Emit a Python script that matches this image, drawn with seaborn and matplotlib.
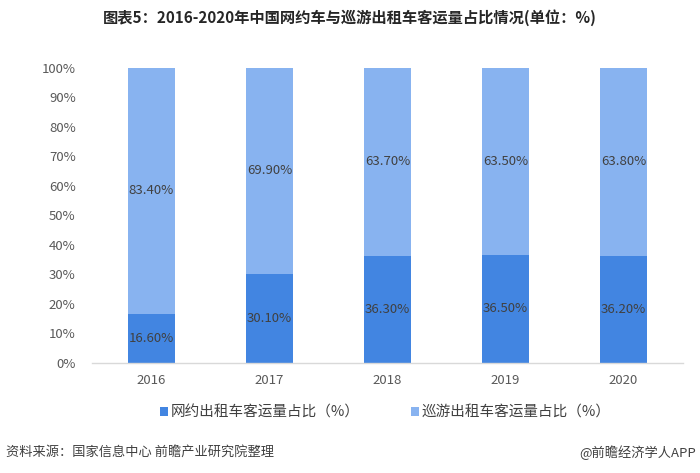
import matplotlib
matplotlib.use("Agg")
import matplotlib.pyplot as plt
import seaborn as sns
import pandas as pd
import numpy as np

# 数据
years = ["2016", "2017", "2018", "2019", "2020"]
online = [16.6, 30.1, 36.3, 36.5, 36.2]
cruise = [83.4, 69.9, 63.7, 63.5, 63.8]
labels = ["网约出租车客运量占比（%）", "巡游出租车客运量占比（%）"]
c_dark = "#4285E1"
c_light = "#88B3F0"

sns.set_theme(style="white")
plt.rcParams["font.family"] = ["Noto Sans CJK SC", "DejaVu Sans"]

df = pd.DataFrame({"year": years, "online": online, "cruise": cruise})
df["total"] = df["online"] + df["cruise"]

fig = plt.figure(figsize=(7, 4.73), dpi=100)
ax = fig.add_axes([0.132, 0.233, 0.843, 0.624])

# 堆叠：先画总高度，再画底部
sns.barplot(data=df, x="year", y="total", color=c_light, width=0.4,
            saturation=1, ax=ax, label=labels[1], linewidth=0)
sns.barplot(data=df, x="year", y="online", color=c_dark, width=0.4,
            saturation=1, ax=ax, label=labels[0], linewidth=0)

for i in range(len(years)):
    ax.text(i, online[i] / 2, f"{online[i]:.2f}%", ha="center", va="center",
            fontsize=9.5, color="#404040")
    ax.text(i, online[i] + cruise[i] / 2, f"{cruise[i]:.2f}%", ha="center",
            va="center", fontsize=9.5, color="#404040")

ax.set_ylim(0, 100)
ax.set_xlim(-0.5, 4.5)
ax.set_yticks(np.arange(0, 101, 10))
ax.set_yticklabels([f"{v}%" for v in range(0, 101, 10)])
ax.tick_params(axis="both", labelsize=9.5, colors="#595959", length=0)
ax.tick_params(axis="y", pad=12)
ax.tick_params(axis="x", pad=8)
ax.set_xlabel("")
ax.set_ylabel("")
for s in ["top", "right", "left"]:
    ax.spines[s].set_visible(False)
ax.spines["bottom"].set_color("#D9D9D9")
ax.spines["bottom"].set_linewidth(1)

h, l = ax.get_legend_handles_labels()
if ax.get_legend() is not None:
    ax.get_legend().remove()
order = [l.index(labels[0]), l.index(labels[1])]
fig.legend([h[k] for k in order], [l[k] for k in order], loc="center",
           bbox_to_anchor=(0.55, 0.128), ncol=2, frameon=False,
           fontsize=10.5, handlelength=0.55, handleheight=0.55,
           handletextpad=0.2, columnspacing=3.5, labelcolor="#404040")

fig.text(0.5, 0.962, "图表5：2016-2020年中国网约车与巡游出租车客运量占比情况(单位：%)",
         ha="center", va="center", fontsize=11, fontweight="bold", color="#262626")
fig.text(0.008, 0.043, "资料来源：国家信息中心 前瞻产业研究院整理", ha="left",
         va="center", fontsize=9.5, color="#404040")
fig.text(0.995, 0.043, "@前瞻经济学人APP", ha="right", va="center",
         fontsize=9.5, color="#404040")

fig.savefig("out.png", dpi=100)
